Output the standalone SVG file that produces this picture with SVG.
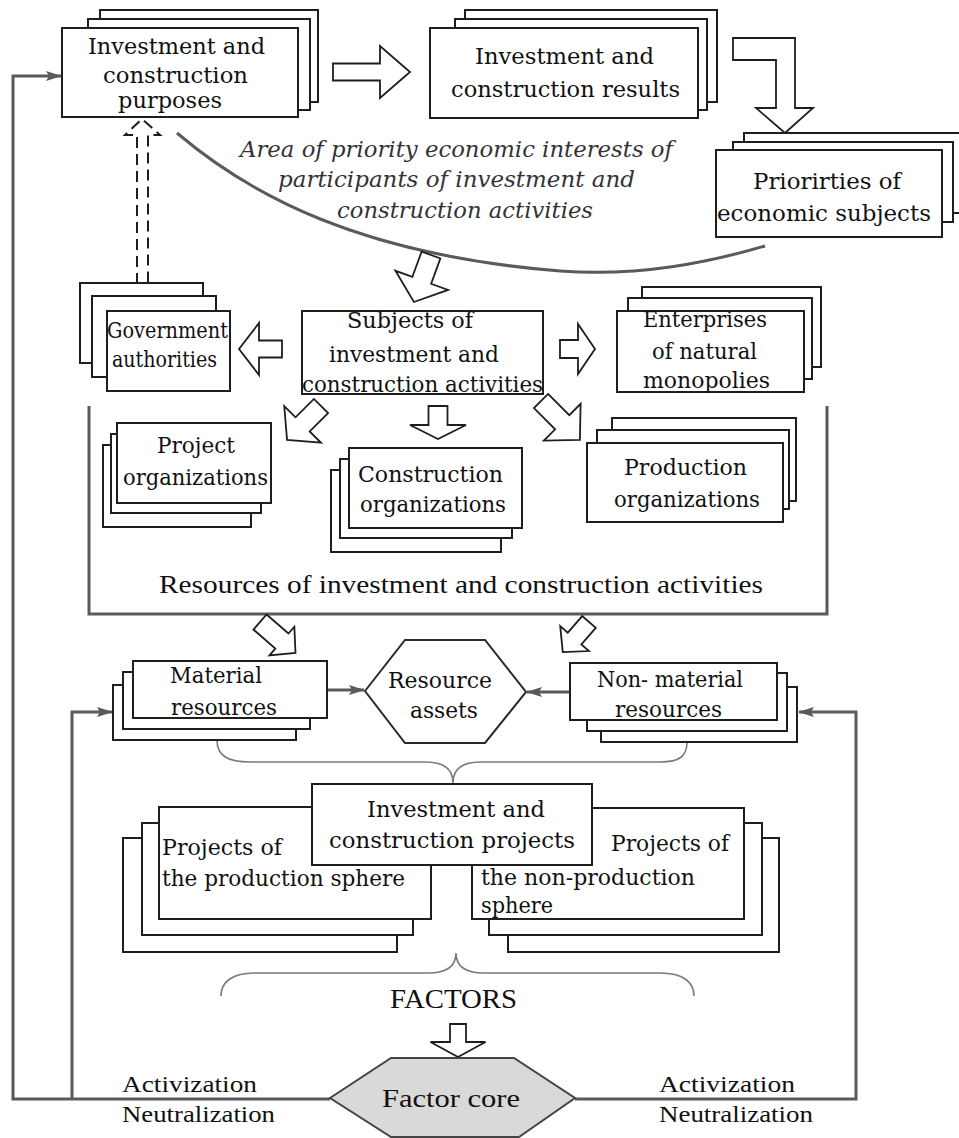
<svg xmlns="http://www.w3.org/2000/svg" width="959" height="1138" viewBox="0 0 959 1138">
<defs>
<style>
.box{fill:#fff;stroke:#1e1e1e;stroke-width:2}
.t{font-family:"DejaVu Serif","Liberation Serif",serif;font-size:22px;fill:#111}
.tc{font-family:"Liberation Serif","DejaVu Serif",serif;font-size:25px;fill:#111}
.it{font-style:italic;fill:#333}
.blk{fill:#fff;stroke:#1e1e1e;stroke-width:1.8;stroke-linejoin:miter}
.dash{fill:none;stroke:#1e1e1e;stroke-width:2;stroke-dasharray:11 6}
.con{fill:none;stroke:#5a5a5a;stroke-width:3}
.brace{fill:none;stroke:#7a7a7a;stroke-width:1.6}
.hex{fill:#fff;stroke:#2a2a2a;stroke-width:2}
.core{fill:#d9d9d9;stroke:#444;stroke-width:2}
</style>
<marker id="ah" viewBox="0 0 16 12" markerWidth="16" markerHeight="12" refX="15" refY="6" orient="auto" markerUnits="userSpaceOnUse">
<path d="M0,1 L16,6 L0,11 L3,6 z" fill="#5a5a5a"/>
</marker>
</defs>
<rect width="959" height="1138" fill="#fff"/>

<g id="connectors">
<path class="con" d="M177,133 C250,195 360,255 560,271 C640,277 710,262 765,246"/>
<path class="con" d="M330,1099 H13 V76 H61" marker-end="url(#ah)"/>
<path class="con" d="M72,1099 V712 H112" marker-end="url(#ah)"/>
<path class="con" d="M575,1099 H856 V712 H799" marker-end="url(#ah)"/>
<path class="con" d="M327,690 H364" marker-end="url(#ah)"/>
<path class="con" d="M570,692 H527" marker-end="url(#ah)"/>
<path class="con" d="M89,406 V614 H827 V406"/>
<path class="brace" d="M217,740 C217,756 228,762 250,762 L425,762 C445,762 453,770 453,783 C453,770 461,762 481,762 L660,762 C680,762 687,756 687,742"/>
<path class="brace" d="M221,996 C221,982 232,973 255,973 L428,973 C448,973 456,965 456,953 C456,965 464,973 484,973 L660,973 C683,973 694,982 694,996"/>
<polygon class="blk" transform="translate(333,72)" points="0,-8.5 47,-8.5 47,-26 77,0 47,26 47,8.5 0,8.5"/>
<polygon class="blk" points="733,38 795,38 795,108 813,108 785,133 756,108 776,108 776,60 733,60"/>
<path class="dash" d="M137,284 V135 H125 L142,119 L160,135 H148 V284"/>
<polygon class="blk" transform="translate(431,255) rotate(110)" points="0,-10 27,-10 27,-28 50,0 27,28 27,10 0,10"/>
<polygon class="blk" transform="translate(282,349) rotate(180)" points="0,-8.5 23,-8.5 23,-26 43,0 23,26 23,8.5 0,8.5"/>
<polygon class="blk" transform="translate(560,349)" points="0,-9 18,-9 18,-25 35,0 18,25 18,9 0,9"/>
<polygon class="blk" transform="translate(321,406) rotate(135)" points="0,-10 26,-10 26,-26 48,0 26,26 26,10 0,10"/>
<polygon class="blk" transform="translate(438,406) rotate(90)" points="0,-9.5 19,-9.5 19,-28 33,0 19,28 19,9.5 0,9.5"/>
<polygon class="blk" transform="translate(541,401) rotate(45)" points="0,-10 30,-10 30,-26 55,0 30,26 30,10 0,10"/>
<polygon class="blk" transform="translate(260,622) rotate(41)" points="0,-10 29,-10 29,-19 47,0 29,19 29,10 0,10"/>
<polygon class="blk" transform="translate(589,622) rotate(131)" points="0,-9 22,-9 22,-19 40,0 22,19 22,9 0,9"/>
<polygon class="blk" transform="translate(458,1024) rotate(90)" points="0,-8 18,-8 18,-27.5 33,0 18,27.5 18,8 0,8"/>
</g>

<g id="area-label">
<text class="t it" x="240" y="157" textLength="433" lengthAdjust="spacingAndGlyphs">Area of priority economic interests of</text>
<text class="t it" x="278" y="187" textLength="357" lengthAdjust="spacingAndGlyphs">participants of investment and</text>
<text class="t it" x="337" y="218" textLength="256" lengthAdjust="spacingAndGlyphs">construction activities</text>
</g>

<g id="purposes">
<rect class="box" x="100" y="10" width="218" height="92"/>
<rect class="box" x="88" y="19" width="222" height="91"/>
<rect class="box" x="62" y="28" width="236" height="89"/>
<text class="t" style="font-size:23px" x="88" y="54" textLength="177" lengthAdjust="spacingAndGlyphs">Investment and</text>
<text class="t" style="font-size:23px" x="103" y="83" textLength="145" lengthAdjust="spacingAndGlyphs">construction</text>
<text class="t" style="font-size:23px" x="118" y="108" textLength="104" lengthAdjust="spacingAndGlyphs">purposes</text>
</g>

<g id="results">
<rect class="box" x="465" y="10" width="252" height="92"/>
<rect class="box" x="455" y="19" width="252" height="91"/>
<rect class="box" x="430" y="28" width="268" height="90"/>
<text class="t" style="font-size:23px" x="475" y="64" textLength="179" lengthAdjust="spacingAndGlyphs">Investment and</text>
<text class="t" style="font-size:23px" x="451" y="97" textLength="229" lengthAdjust="spacingAndGlyphs">construction results</text>
</g>

<g id="priorities">
<rect class="box" x="744" y="133" width="222" height="80"/>
<rect class="box" x="733" y="142" width="220" height="80"/>
<rect class="box" x="716" y="150" width="226" height="87"/>
<text class="t" style="font-size:23px" x="753" y="189" textLength="148" lengthAdjust="spacingAndGlyphs">Priorirties of</text>
<text class="t" style="font-size:23px" x="717" y="221" textLength="214" lengthAdjust="spacingAndGlyphs">economic subjects</text>
</g>

<g id="government">
<rect class="box" x="80" y="283" width="123" height="80"/>
<rect class="box" x="92" y="296" width="124" height="81"/>
<rect class="box" x="107" y="311" width="123" height="80"/>
<text class="t" x="107" y="338" textLength="121" lengthAdjust="spacingAndGlyphs">Government</text>
<text class="t" x="112" y="367" textLength="105" lengthAdjust="spacingAndGlyphs">authorities</text>
</g>

<g id="subjects">
<rect class="box" x="302" y="311" width="241" height="83"/>
<text class="t" x="347" y="328" textLength="126" lengthAdjust="spacingAndGlyphs">Subjects of</text>
<text class="t" x="329" y="362" textLength="170" lengthAdjust="spacingAndGlyphs">investment and</text>
<text class="t" x="302" y="392" textLength="241" lengthAdjust="spacingAndGlyphs">construction activities</text>
</g>

<g id="enterprises">
<rect class="box" x="642" y="287" width="179" height="80"/>
<rect class="box" x="628" y="298" width="184" height="81"/>
<rect class="box" x="617" y="311" width="187" height="81"/>
<text class="t" x="643" y="327" textLength="124" lengthAdjust="spacingAndGlyphs">Enterprises</text>
<text class="t" x="652" y="359" textLength="105" lengthAdjust="spacingAndGlyphs">of natural</text>
<text class="t" x="643" y="388" textLength="127" lengthAdjust="spacingAndGlyphs">monopolies</text>
</g>

<g id="project-org">
<rect class="box" x="103" y="445" width="148" height="82"/>
<rect class="box" x="111" y="434" width="150" height="79"/>
<rect class="box" x="117" y="423" width="154" height="80"/>
<text class="t" x="157" y="453" textLength="78" lengthAdjust="spacingAndGlyphs">Project</text>
<text class="t" x="123" y="485" textLength="145" lengthAdjust="spacingAndGlyphs">organizations</text>
</g>

<g id="construction-org">
<rect class="box" x="331" y="470" width="170" height="82"/>
<rect class="box" x="340" y="459" width="172" height="79"/>
<rect class="box" x="349" y="448" width="173" height="80"/>
<text class="t" x="358" y="482" textLength="145" lengthAdjust="spacingAndGlyphs">Construction</text>
<text class="t" x="360" y="512" textLength="146" lengthAdjust="spacingAndGlyphs">organizations</text>
</g>

<g id="production-org">
<rect class="box" x="612" y="418" width="184" height="83"/>
<rect class="box" x="597" y="430" width="192" height="79"/>
<rect class="box" x="587" y="443" width="196" height="79"/>
<text class="t" x="624" y="475" textLength="123" lengthAdjust="spacingAndGlyphs">Production</text>
<text class="t" x="614" y="507" textLength="146" lengthAdjust="spacingAndGlyphs">organizations</text>
</g>

<g id="resources-label">
<text class="tc" x="159" y="593" textLength="604" lengthAdjust="spacingAndGlyphs">Resources of investment and construction activities</text>
</g>

<g id="material">
<rect class="box" x="113" y="685" width="183" height="55"/>
<rect class="box" x="123" y="672" width="187" height="57"/>
<rect class="box" x="133" y="661" width="194" height="57"/>
<text class="t" x="170" y="683" textLength="92" lengthAdjust="spacingAndGlyphs">Material</text>
<text class="t" x="171" y="715" textLength="106" lengthAdjust="spacingAndGlyphs">resources</text>
</g>

<g id="resource-assets">
<polygon class="hex" points="365,691 405,640 485,640 526,692 485,743 405,743"/>
<text class="t" x="388" y="688" textLength="104" lengthAdjust="spacingAndGlyphs">Resource</text>
<text class="t" x="410" y="718" textLength="68" lengthAdjust="spacingAndGlyphs">assets</text>
</g>

<g id="non-material">
<rect class="box" x="601" y="687" width="196" height="55"/>
<rect class="box" x="587" y="673" width="200" height="58"/>
<rect class="box" x="570" y="663" width="207" height="57"/>
<text class="t" x="597" y="687" textLength="146" lengthAdjust="spacingAndGlyphs">Non- material</text>
<text class="t" x="615" y="717" textLength="107" lengthAdjust="spacingAndGlyphs">resources</text>
</g>

<g id="production-sphere">
<rect class="box" x="123" y="838" width="274" height="114"/>
<rect class="box" x="142" y="823" width="271" height="112"/>
<rect class="box" x="159" y="807" width="272" height="112"/>
<text class="t" x="162" y="855" textLength="120" lengthAdjust="spacingAndGlyphs">Projects of</text>
<text class="t" x="162" y="886" textLength="243" lengthAdjust="spacingAndGlyphs">the production sphere</text>
</g>

<g id="non-production-sphere">
<rect class="box" x="508" y="838" width="271" height="114"/>
<rect class="box" x="489" y="823" width="273" height="112"/>
<rect class="box" x="472" y="808" width="272" height="111"/>
<text class="t" x="611" y="851" textLength="118" lengthAdjust="spacingAndGlyphs">Projects of</text>
<text class="t" x="481" y="885" textLength="214" lengthAdjust="spacingAndGlyphs">the non-production</text>
<text class="t" x="481" y="913" textLength="72" lengthAdjust="spacingAndGlyphs">sphere</text>
</g>

<g id="ic-projects">
<rect class="box" x="312" y="784" width="280" height="81"/>
<text class="t" style="font-size:23px" x="367" y="817" textLength="178" lengthAdjust="spacingAndGlyphs">Investment and</text>
<text class="t" style="font-size:23px" x="329" y="848" textLength="246" lengthAdjust="spacingAndGlyphs">construction projects</text>
</g>

<g id="factors">
<text class="tc" style="font-size:27px" x="390" y="1008" textLength="127" lengthAdjust="spacingAndGlyphs">FACTORS</text>
</g>

<g id="factor-core">
<polygon class="core" points="330,1098 391,1058 514,1058 575,1098 519,1137 391,1137"/>
<text class="tc" style="font-size:26px" x="382" y="1107" textLength="138" lengthAdjust="spacingAndGlyphs">Factor core</text>
</g>

<g id="left-labels">
<text class="tc" style="font-size:24px" x="122" y="1092" textLength="135" lengthAdjust="spacingAndGlyphs">Activization</text>
<text class="tc" style="font-size:24px" x="122" y="1122" textLength="153" lengthAdjust="spacingAndGlyphs">Neutralization</text>
</g>
<g id="right-labels">
<text class="tc" style="font-size:24px" x="659" y="1092" textLength="136" lengthAdjust="spacingAndGlyphs">Activization</text>
<text class="tc" style="font-size:24px" x="659" y="1122" textLength="154" lengthAdjust="spacingAndGlyphs">Neutralization</text>
</g>
</svg>
